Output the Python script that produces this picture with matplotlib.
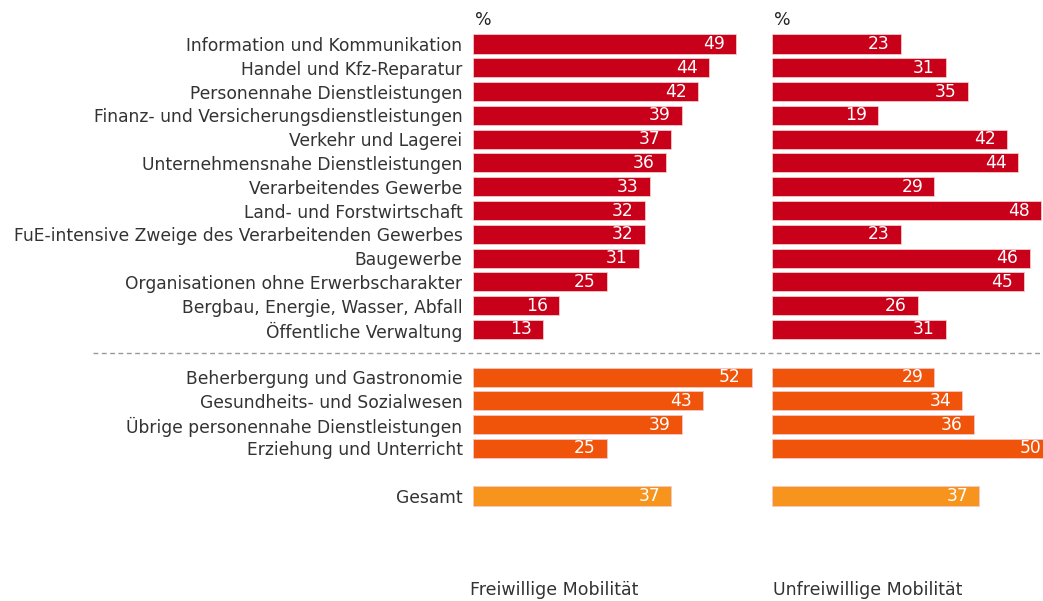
import numpy as np
import matplotlib.pyplot as plt

branchen = ["Information und Kommunikation", "Handel und Kfz-Reparatur",
            "Personennahe Dienstleistungen", "Finanz- und Versicherungsdienstleistungen",
            "Verkehr und Lagerei", "Unternehmensnahe Dienstleistungen",
            "Verarbeitendes Gewerbe", "Land- und Forstwirtschaft",
            "FuE-intensive Zweige des Verarbeitenden Gewerbes", "Baugewerbe",
            "Organisationen ohne Erwerbscharakter", "Bergbau, Energie, Wasser, Abfall",
            "Öffentliche Verwaltung"]
freiwillig_a = [49, 44, 42, 39, 37, 36, 33, 32, 32, 31, 25, 16, 13]
unfreiwillig_a = [23, 31, 35, 19, 42, 44, 29, 48, 23, 46, 45, 26, 31]

branchen_b = ["Beherbergung und Gastronomie", "Gesundheits- und Sozialwesen",
              "Übrige personennahe Dienstleistungen", "Erziehung und Unterricht"]
freiwillig_b = [52, 43, 39, 25]
unfreiwillig_b = [29, 34, 36, 50]

gesamt_label = "Gesamt"
gesamt_frei = 37
gesamt_unfrei = 37

RED = "#c8001a"
ORANGE = "#f0540a"
LIGHT = "#f7941d"
TXT = "#333333"

labels = branchen + branchen_b + [gesamt_label]
pos = list(range(13)) + list(range(14, 18)) + [19]
colors = [RED] * 13 + [ORANGE] * 4 + [LIGHT]
frei = freiwillig_a + freiwillig_b + [gesamt_frei]
unfrei = unfreiwillig_a + unfreiwillig_b + [gesamt_unfrei]

W, H = 1043, 601
fig = plt.figure(figsize=(W / 100, H / 100), dpi=100)

ytop = -44 / 23.79
ybot = (H - 44) / 23.79

axL = fig.add_axes([473 / W, 0, 290 / W, 1])
axR = fig.add_axes([772 / W, 0, (W - 772) / W, 1])

for ax, vals, scale, title, tx in [(axL, frei, 5.36, "Freiwillige Mobilität", -0.5),
                                   (axR, unfrei, 5.6, "Unfreiwillige Mobilität", 0.15)]:
    width_px = ax.get_position().width * W
    ax.barh(pos, vals, height=0.8, color=colors, edgecolor="#f4c8c8", linewidth=0.6)
    ax.set_xlim(0, width_px / scale)
    ax.set_ylim(ybot, ytop)
    for p, v in zip(pos, vals):
        ax.annotate(str(v), (v, p), xytext=(-8, 0), textcoords="offset points",
                    ha="right", va="center", color="white", fontsize=12.3,
                    annotation_clip=False)
    for s in ax.spines.values():
        s.set_visible(False)
    ax.set_xticks([])
    ax.text(0.3, -1.0, "%", fontsize=12.5, color="#222222", va="center", ha="left")
    ax.text(tx, 22.95, title, fontsize=12.5, color=TXT, va="center", ha="left")

axR.set_yticks([])
axL.set_yticks(pos)
axL.set_yticklabels(labels, fontsize=12.3, color=TXT)
axL.tick_params(axis="y", length=0, pad=7.5)

fig.add_artist(plt.Line2D([93 / W, 1], [1 - 353 / H, 1 - 353 / H], color="#999999",
                          linestyle=(0, (3.5, 2.5)), linewidth=1))

fig.savefig("out.png", dpi=100)
